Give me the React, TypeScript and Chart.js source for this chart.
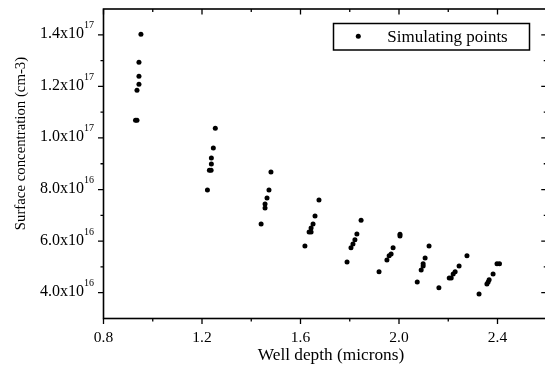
import React, { useEffect, useRef } from "react";
import { Chart, registerables } from "chart.js";

Chart.register(...registerables);

// Well depth (microns)
const depth: number[] = [
  0.952, 0.944, 0.944, 0.944, 0.936, 0.930, 0.936,
  1.254, 1.246, 1.238, 1.238, 1.230, 1.237, 1.222,
  1.480, 1.472, 1.464, 1.456, 1.456, 1.440,
  1.675, 1.659, 1.651, 1.643, 1.635, 1.643, 1.618,
  1.846, 1.829, 1.821, 1.813, 1.805, 1.789,
  2.004, 2.004, 1.976, 1.968, 1.960, 1.951, 1.919,
  2.122, 2.106, 2.098, 2.098, 2.090, 2.074,
  2.276, 2.244, 2.228, 2.220, 2.204, 2.212, 2.162,
  2.398, 2.408, 2.382, 2.366, 2.362, 2.357, 2.325,
];
// Surface concentration (cm-3)
const concentration: number[] = [
  14.02e16, 12.94e16, 12.39e16, 12.08e16, 11.85e16, 10.69e16, 10.69e16,
  10.38e16, 9.61e16, 9.22e16, 8.99e16, 8.75e16, 8.75e16, 7.98e16,
  8.68e16, 7.98e16, 7.67e16, 7.44e16, 7.28e16, 6.66e16,
  7.59e16, 6.97e16, 6.66e16, 6.51e16, 6.35e16, 6.35e16, 5.81e16,
  6.81e16, 6.28e16, 6.05e16, 5.89e16, 5.74e16, 5.19e16,
  6.27e16, 6.2e16, 5.74e16, 5.5e16, 5.43e16, 5.27e16, 4.81e16,
  5.81e16, 5.35e16, 5.12e16, 5.04e16, 4.88e16, 4.42e16,
  5.43e16, 5.04e16, 4.81e16, 4.73e16, 4.57e16, 4.57e16, 4.19e16,
  5.12e16, 5.12e16, 4.73e16, 4.5e16, 4.42e16, 4.34e16, 3.95e16,
];

const xMajorTicks: number[] = [0.8, 1.2, 1.6, 2.0, 2.4];
const xMajorLabels: string[] = ["0.8", "1.2", "1.6", "2.0", "2.4"];
const xMinorTicks: number[] = [1.0, 1.4, 1.8, 2.2];
const yMajorTicks: number[] = [4e16, 6e16, 8e16, 10e16, 12e16, 14e16];
const yMantissa: string[] = ["4.0x10", "6.0x10", "8.0x10", "1.0x10", "1.2x10", "1.4x10"];
const yExponent: string[] = ["16", "16", "16", "17", "17", "17"];
const yMinorTicks: number[] = [5e16, 7e16, 9e16, 11e16, 13e16];

const X_MIN = 0.8;
const X_MAX = 2.6;
const Y_MIN = 3e16;
const Y_MAX = 15e16;

const seriesLabel = "Simulating points";
const xTitle = "Well depth (microns)";
const yTitle = "Surface concentration (cm-3)";

const FONT = '"Liberation Serif", "Times New Roman", serif';

const decorPlugin = {
  id: "decor",
  afterDatasetsDraw(chart: any) {
    const ctx: CanvasRenderingContext2D = chart.ctx;
    const xs = chart.scales.x;
    const ys = chart.scales.y;
    const { left, right, top, bottom } = chart.chartArea;
    ctx.save();
    ctx.strokeStyle = "#000";
    ctx.fillStyle = "#000";
    // frame
    ctx.lineWidth = 1.6;
    ctx.strokeRect(left, top, right - left, bottom - top);
    ctx.lineWidth = 1.3;
    const major = 5.5;
    const minor = 3;
    ctx.beginPath();
    const xt = (v: number, len: number) => {
      const p = xs.getPixelForValue(v);
      ctx.moveTo(p, bottom);
      ctx.lineTo(p, bottom + len);
      ctx.moveTo(p, top);
      ctx.lineTo(p, top + len);
    };
    const yt = (v: number, len: number) => {
      const p = ys.getPixelForValue(v);
      ctx.moveTo(left, p);
      ctx.lineTo(left - len, p);
      ctx.moveTo(right, p);
      ctx.lineTo(right - len, p);
    };
    xMajorTicks.forEach((v) => xt(v, major));
    xMinorTicks.forEach((v) => xt(v, minor));
    yMajorTicks.forEach((v) => yt(v, major));
    yMinorTicks.forEach((v) => yt(v, minor));
    ctx.stroke();

    // x labels
    ctx.font = `15.5px ${FONT}`;
    ctx.textAlign = "center";
    ctx.textBaseline = "alphabetic";
    xMajorTicks.forEach((v, i) => {
      ctx.fillText(xMajorLabels[i], xs.getPixelForValue(v), 342);
    });
    // y labels
    yMajorTicks.forEach((v, i) => {
      const p = ys.getPixelForValue(v);
      ctx.font = `10px ${FONT}`;
      const ew = ctx.measureText(yExponent[i]).width;
      const expRight = left - 9.5;
      ctx.textAlign = "left";
      ctx.fillText(yExponent[i], expRight - ew, p - 6.5);
      ctx.font = `16px ${FONT}`;
      ctx.textAlign = "right";
      ctx.fillText(yMantissa[i], expRight - ew, p + 3.5);
    });
    // titles
    ctx.font = `17.3px ${FONT}`;
    ctx.textAlign = "center";
    ctx.fillText(xTitle, 331, 360);
    ctx.save();
    ctx.translate(25, 143.5);
    ctx.rotate(-Math.PI / 2);
    ctx.font = `14.8px ${FONT}`;
    ctx.fillText(yTitle, 0, 0);
    ctx.restore();

    // legend
    ctx.lineWidth = 1.5;
    ctx.strokeRect(333.5, 23.5, 196, 26.5);
    ctx.beginPath();
    ctx.arc(358.3, 36.3, 2.5, 0, Math.PI * 2);
    ctx.fill();
    ctx.font = `17px ${FONT}`;
    ctx.textAlign = "left";
    ctx.fillText(seriesLabel, 387.3, 42.3);
    ctx.restore();
  },
};

export default function App() {
  const ref = useRef<HTMLCanvasElement | null>(null);
  useEffect(() => {
    if (!ref.current) return;
    const chart = new Chart(ref.current, {
      type: "scatter",
      data: {
        datasets: [
          {
            label: seriesLabel,
            data: depth.map((d, i) => ({ x: d, y: concentration[i] })),
            backgroundColor: "#000",
            borderWidth: 0,
            pointRadius: 2.5,
            pointHoverRadius: 2.5,
          },
        ],
      },
      options: {
        responsive: false,
        animation: false,
        events: [],
        layout: { padding: { left: 103.5, top: 9, right: 5.25, bottom: 55.5 } },
        plugins: { legend: { display: false }, tooltip: { enabled: false } },
        scales: {
          x: { type: "linear", display: false, min: X_MIN, max: X_MAX },
          y: { type: "linear", display: false, min: Y_MIN, max: Y_MAX },
        },
      },
      plugins: [decorPlugin],
    });
    return () => chart.destroy();
  }, []);
  return (
    <div style={{ position: "fixed", left: 0, top: 0, width: 545, height: 374, overflow: "hidden", background: "#fff" }}>
      <canvas ref={ref} width={552} height={374} style={{ display: "block" }} />
    </div>
  );
}
